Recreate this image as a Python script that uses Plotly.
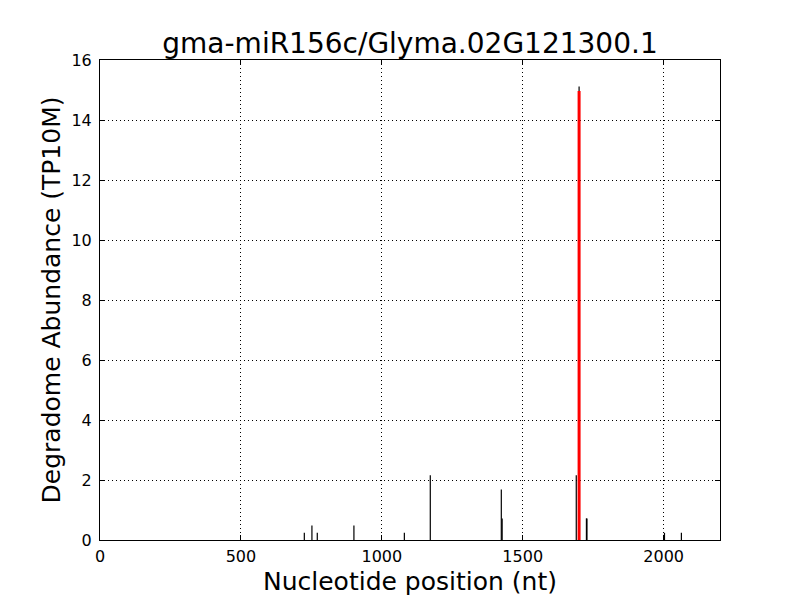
import plotly.graph_objects as go

positions = [725, 752, 771, 901, 1080, 1172, 1424, 1427, 1690, 1700, 1726, 1728, 2003, 2063]
abundance = [0.24, 0.48, 0.24, 0.48, 0.24, 2.16, 1.68, 0.72, 2.16, 15.12, 0.72, 0.72, 0.24, 0.24]
target_pos = [1700]
target_abund = [14.97]
x_ticks = [0, 500, 1000, 1500, 2000]
y_ticks = [0, 2, 4, 6, 8, 10, 12, 14, 16]

def stems(xs, ys):
    sx, sy = [], []
    for x, y in zip(xs, ys):
        sx += [x, x, None]
        sy += [0, y, None]
    return sx, sy

bx, by = stems(positions, abundance)
rx, ry = stems(target_pos, target_abund)

fig = go.Figure()
fig.add_trace(go.Scatter(x=bx, y=by, mode="lines", line=dict(color="black", width=1.2),
                         hoverinfo="skip", showlegend=False))
fig.add_trace(go.Scatter(x=rx, y=ry, mode="lines", line=dict(color="red", width=3),
                         hoverinfo="skip", showlegend=False))

axis_common = dict(showline=True, linecolor="black", linewidth=1, mirror="ticks",
                   ticks="inside", ticklen=5, tickcolor="black", automargin=False,
                   showgrid=True, gridcolor="black", griddash="1px,3px", gridwidth=1,
                   zeroline=False, tickfont=dict(size=16, color="black"))

fig.update_layout(
    width=800, height=600,
    paper_bgcolor="white", plot_bgcolor="white",
    font=dict(family="DejaVu Sans", color="black"),
    margin=dict(l=92, r=88, t=52, b=68, autoexpand=False),
    title=dict(text="gma-miR156c/Glyma.02G121300.1", x=(92 + 310) / 800, xanchor="center",
               y=1 - 35 / 600, yanchor="middle", font=dict(size=28, color="black")),
    xaxis=dict(range=[0, 2200], tickvals=x_ticks, ticklabelstandoff=2,
               title=dict(text="Nucleotide position (nt)", font=dict(size=25), standoff=7),
               **axis_common),
    yaxis=dict(range=[0, 16], tickvals=y_ticks, ticklabelstandoff=4,
               title=dict(text="Degradome Abundance (TP10M)", font=dict(size=25), standoff=3),
               **axis_common),
)

fig.write_html("out.html")
